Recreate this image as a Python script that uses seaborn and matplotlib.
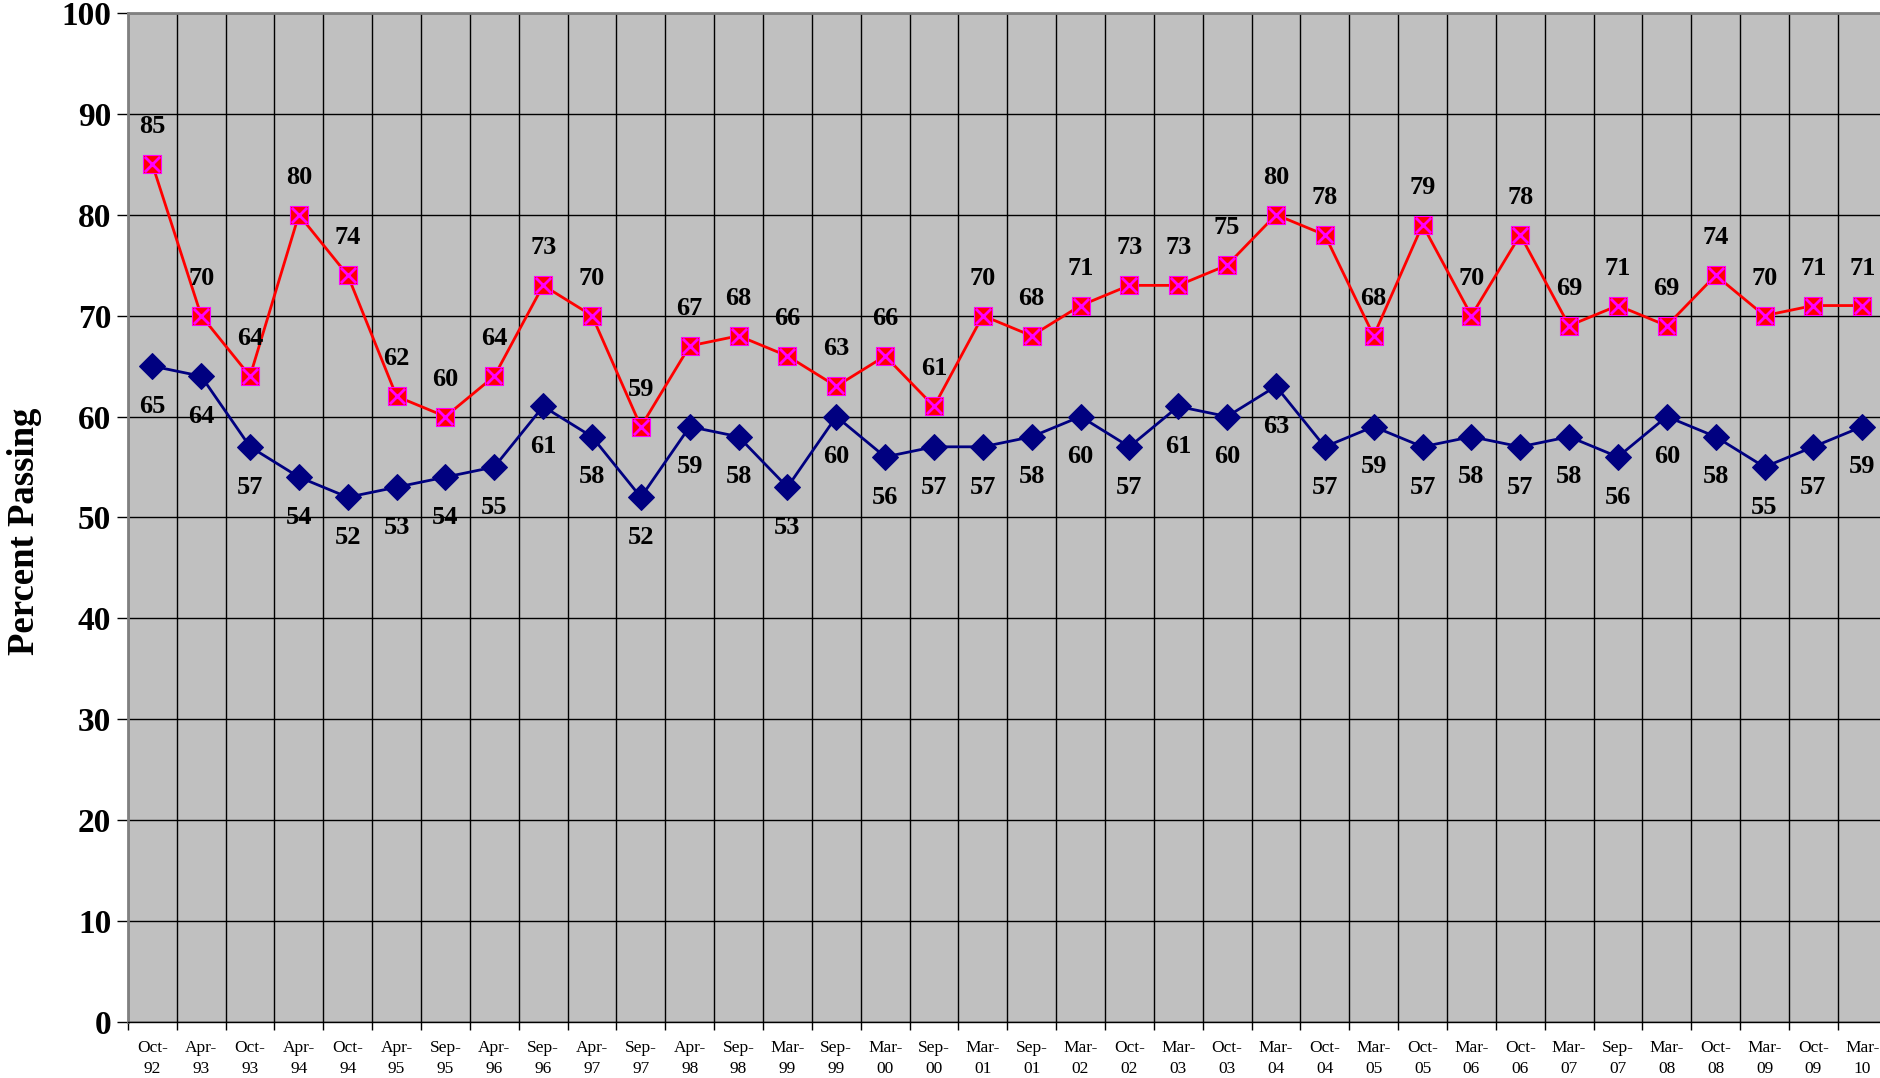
import matplotlib
matplotlib.use("Agg")
import matplotlib.pyplot as plt
import numpy as np
import pandas as pd
import seaborn as sns

# test dates
dates = ["Oct-92", "Apr-93", "Oct-93", "Apr-94", "Oct-94", "Apr-95", "Sep-95", "Apr-96",
         "Sep-96", "Apr-97", "Sep-97", "Apr-98", "Sep-98", "Mar-99", "Sep-99", "Mar-00",
         "Sep-00", "Mar-01", "Sep-01", "Mar-02", "Oct-02", "Mar-03", "Oct-03", "Mar-04",
         "Oct-04", "Mar-05", "Oct-05", "Mar-06", "Oct-06", "Mar-07", "Sep-07", "Mar-08",
         "Oct-08", "Mar-09", "Oct-09", "Mar-10"]

upper_pct = [85, 70, 64, 80, 74, 62, 60, 64, 73, 70, 59, 67, 68, 66, 63, 66, 61, 70,
             68, 71, 73, 73, 75, 80, 78, 68, 79, 70, 78, 69, 71, 69, 74, 70, 71, 71]
lower_pct = [65, 64, 57, 54, 52, 53, 54, 55, 61, 58, 52, 59, 58, 53, 60, 56, 57, 57,
             58, 60, 57, 61, 60, 63, 57, 59, 57, 58, 57, 58, 56, 60, 58, 55, 57, 59]

df = pd.DataFrame({
    "pos": np.arange(len(dates)),
    "date": dates,
    "upper": upper_pct,
    "lower": lower_pct,
})

sns.set_style("white")
plt.rcParams["font.family"] = ["Liberation Serif", "DejaVu Serif"]
plt.rcParams["text.color"] = "black"
plt.rcParams["axes.labelcolor"] = "black"
plt.rcParams["xtick.color"] = "black"
plt.rcParams["ytick.color"] = "black"

fig = plt.figure(figsize=(18.81, 10.78), dpi=100)
ax = fig.add_axes([0.068, 0.052, 0.935, 0.936])
ax.set_facecolor("#C0C0C0")

# red series with square + x markers
sns.lineplot(data=df, x="pos", y="upper", color="#FF0000", linewidth=2,
             marker="s", markersize=12.5, markeredgecolor="#FF00FF",
             markeredgewidth=0.8, ax=ax, zorder=3)
sns.scatterplot(data=df, x="pos", y="upper", marker="x", color="#FF00FF",
                s=120, linewidth=2, ax=ax, zorder=4)

# navy series with diamonds
sns.lineplot(data=df, x="pos", y="lower", color="#000080", linewidth=2,
             marker="D", markersize=13.5, markeredgecolor="#000080",
             ax=ax, zorder=3)

for i, row in df.iterrows():
    ax.annotate(str(row["upper"]), (row["pos"], row["upper"]), xytext=(0, 27),
                textcoords="offset points", ha="center", va="center",
                fontsize=19, fontweight="bold", color="black", zorder=5)
    ax.annotate(str(row["lower"]), (row["pos"], row["lower"]), xytext=(0, -29),
                textcoords="offset points", ha="center", va="center",
                fontsize=19, fontweight="bold", color="black", zorder=5)

ax.set_xlim(-0.5, len(dates) - 0.5)
ax.set_ylim(0, 100)
ax.set_yticks(range(0, 101, 10))
ax.tick_params(axis="y", labelsize=24, length=8, width=1, direction="out",
               left=True, pad=4)
for lab in ax.get_yticklabels():
    lab.set_fontweight("bold")

ax.set_xticks(df["pos"])
ax.set_xticklabels([d.replace("-", "-\n") for d in dates], fontsize=12.5,
                   linespacing=1.45)
ax.set_xticks(np.arange(len(dates)) - 0.5, minor=True)
ax.tick_params(axis="x", which="major", length=0, pad=13)
ax.tick_params(axis="x", which="minor", length=6, width=1, direction="out",
               bottom=True)

ax.grid(True, axis="y", which="major", color="black", linewidth=1)
ax.grid(True, axis="x", which="minor", color="black", linewidth=1)
ax.grid(False, axis="x", which="major")
ax.set_axisbelow(True)

ax.set_xlabel("")
ax.set_ylabel("Percent Passing", fontsize=26.5, fontweight="bold")
ax.yaxis.set_label_coords(-0.049, 0.486)

for s in ["top", "left"]:
    ax.spines[s].set_color("#808080")
    ax.spines[s].set_linewidth(2)
ax.spines["bottom"].set_color("black")
ax.spines["bottom"].set_linewidth(1)
ax.spines["right"].set_visible(False)

fig.savefig("out.png", dpi=100)
